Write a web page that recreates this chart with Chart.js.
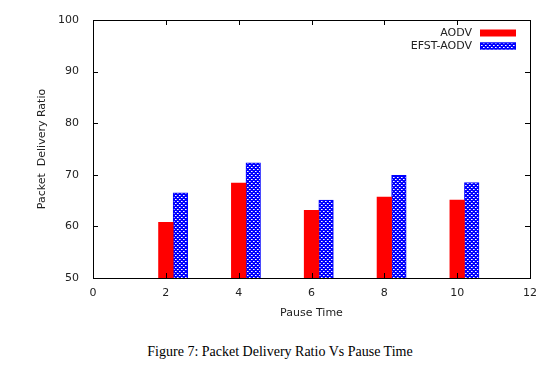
<!DOCTYPE html>
<html>
<head>
<meta charset="utf-8">
<script src="https://cdn.jsdelivr.net/npm/chart.js@4.4.1/dist/chart.umd.min.js"></script>
<style>
  html, body { margin: 0; padding: 0; background: #fff; }
  #wrap { width: 560px; height: 330px; position: relative; }
  #caption {
    width: 560px; text-align: center;
    font-family: "Liberation Serif", "DejaVu Serif", serif;
    font-size: 14px; color: #000; margin-top: 14px;
  }
</style>
</head>
<body>
<div id="wrap"><canvas id="pdr-chart"></canvas></div>
<div id="caption">Figure 7: Packet Delivery Ratio Vs Pause Time</div>
<script>
let pdrCanvas = document.getElementById("pdr-chart");

// Data
const pauseTimes = [2, 4, 6, 8, 10];
const aodvValues = [60.8, 68.4, 63.1, 65.7, 65.1];
const efstValues = [66.5, 72.3, 65.1, 69.9, 68.5];
const seriesNames = ["AODV", "EFST-AODV"];
const yTicks = [50, 60, 70, 80, 90, 100];
const xTicks = [0, 2, 4, 6, 8, 10, 12];

// gnuplot puts the 2nd bar right after the first one
const barWidth = 0.4;

const fontFamily = "'DejaVu Sans', sans-serif";

// blue crosshatch pattern with white dots
function makeHatch() {
    let c = document.createElement("canvas");
    c.width = 4;
    c.height = 4;
    let g = c.getContext("2d");
    g.fillStyle = "#0000ff";
    g.fillRect(0, 0, 4, 4);
    g.fillStyle = "#ffffff";
    g.fillRect(1, 1, 1, 1);
    g.fillRect(3, 3, 1, 1);
    g.fillStyle = "#9999ff";
    g.fillRect(2, 1, 1, 1);
    g.fillRect(0, 3, 1, 1);
    return g.createPattern(c, "repeat");
}
const hatch = makeHatch();

let pdrData = {
    datasets: [{
        label: seriesNames[0],
        data: pauseTimes.map((t, i) => ({x: t, y: aodvValues[i]})),
        backgroundColor: "#ff0000",
        borderWidth: 0
    }, {
        label: seriesNames[1],
        data: pauseTimes.map((t, i) => ({x: t + barWidth, y: efstValues[i]})),
        backgroundColor: hatch,
        borderColor: "#0000ff",
        borderWidth: 1
    }]
};

// frame, inward ticks and legend like gnuplot
const framePlugin = {
    id: "frame",
    afterDraw(chart) {
        let ctx = chart.ctx;
        let a = chart.chartArea;
        let xs = chart.scales.x;
        let ys = chart.scales.y;
        ctx.save();
        ctx.strokeStyle = "#000";
        ctx.lineWidth = 1;
        ctx.strokeRect(Math.round(a.left) + 0.5, Math.round(a.top) + 0.5,
            Math.round(a.right - a.left), Math.round(a.bottom - a.top));
        ctx.beginPath();
        yTicks.forEach(v => {
            let y = Math.round(ys.getPixelForValue(v)) + 0.5;
            ctx.moveTo(a.left, y); ctx.lineTo(a.left + 5, y);
            ctx.moveTo(a.right, y); ctx.lineTo(a.right - 5, y);
        });
        xTicks.forEach(v => {
            let x = Math.round(xs.getPixelForValue(v)) + 0.5;
            ctx.moveTo(x, a.bottom); ctx.lineTo(x, a.bottom - 5);
            ctx.moveTo(x, a.top); ctx.lineTo(x, a.top + 5);
        });
        ctx.stroke();

        // legend
        ctx.font = "11px " + fontFamily;
        ctx.textAlign = "right";
        ctx.textBaseline = "middle";
        chart.data.datasets.forEach((ds, i) => {
            let cy = a.top + 13 + i * 13;
            ctx.fillStyle = "#222";
            ctx.fillText(ds.label, a.right - 58, cy);
            ctx.fillStyle = ds.backgroundColor;
            ctx.fillRect(a.right - 50, cy - 3.5, 36, 7);
            if (ds.borderWidth) {
                ctx.strokeStyle = ds.borderColor;
                ctx.strokeRect(a.right - 49.5, cy - 3, 35, 6);
            }
        });
        ctx.restore();
    }
};

let pdrOptions = {
    responsive: true,
    maintainAspectRatio: false,
    animation: false,
    layout: {
        padding: {left: 0, right: 30, top: 20, bottom: 0}
    },
    datasets: {
        bar: {
            grouped: false,
            barPercentage: 1,
            categoryPercentage: 1
        }
    },
    scales: {
        x: {
            type: "linear",
            offset: false,
            min: 0,
            max: 12,
            afterFit(scale) { scale.height = 52; },
            afterBuildTicks(scale) { scale.ticks = xTicks.map(v => ({value: v})); },
            grid: {display: false, offset: false},
            border: {display: false},
            ticks: {
                color: "#222",
                padding: 1,
                font: {family: fontFamily, size: 11}
            },
            title: {
                display: true,
                text: "Pause Time",
                color: "#222",
                padding: {top: 0, bottom: 10},
                font: {family: fontFamily, size: 11}
            }
        },
        y: {
            min: 50,
            max: 100,
            afterFit(scale) { scale.width = 93; },
            afterBuildTicks(scale) { scale.ticks = yTicks.map(v => ({value: v})); },
            grid: {display: false},
            border: {display: false},
            ticks: {
                color: "#222",
                padding: 6,
                font: {family: fontFamily, size: 11}
            },
            title: {
                display: true,
                text: "Packet  Delivery Ratio",
                color: "#222",
                padding: {top: 36, bottom: 0},
                font: {family: fontFamily, size: 11}
            }
        }
    },
    plugins: {
        legend: {display: false},
        tooltip: {enabled: false}
    }
};

let pdrChart = new Chart(pdrCanvas, {
    type: "bar",
    data: pdrData,
    options: pdrOptions,
    plugins: [framePlugin]
});
</script>
</body>
</html>
